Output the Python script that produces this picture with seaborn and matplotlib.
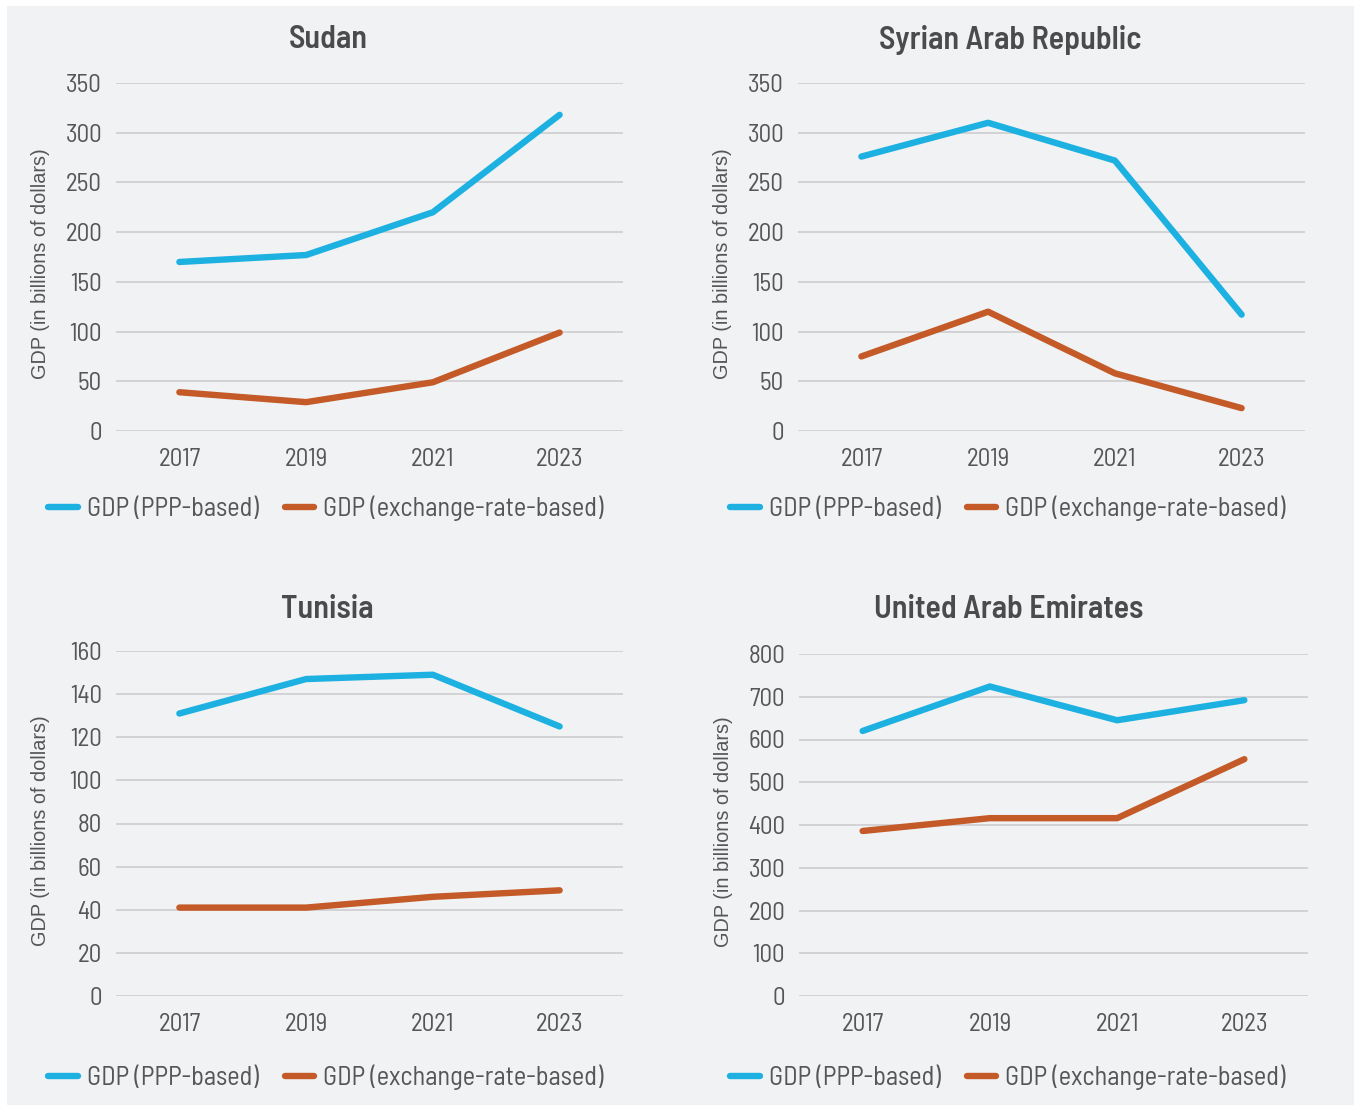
import matplotlib
matplotlib.use("Agg")
import matplotlib.pyplot as plt
import pandas as pd
import seaborn as sns
from matplotlib.lines import Line2D
from matplotlib.patches import Rectangle

# ---- data (billions of dollars) ----
years = ["2017", "2019", "2021", "2023"]
series_names = ["GDP (PPP-based)", "GDP (exchange-rate-based)"]

sudan_ppp = [170, 177, 220, 318]
sudan_exr = [39, 29, 49, 99]

syria_ppp = [276, 310, 272, 117]
syria_exr = [75, 120, 58, 23]

tunisia_ppp = [131, 147, 149, 125]
tunisia_exr = [41, 41, 46, 49]

uae_ppp = [620, 724, 645, 692]
uae_exr = [386, 416, 416, 554]

sudan_ticks = [0, 50, 100, 150, 200, 250, 300, 350]
syria_ticks = [0, 50, 100, 150, 200, 250, 300, 350]
tunisia_ticks = [0, 20, 40, 60, 80, 100, 120, 140, 160]
uae_ticks = [0, 100, 200, 300, 400, 500, 600, 700, 800]

countries = ["Sudan", "Syrian Arab Republic", "Tunisia", "United Arab Emirates"]

# ---- style ----
W, H, DPI = 1354, 1105, 100
BG = "#f1f2f4"
BLUE = "#1db1e1"
ORANGE = "#c35a27"
TXT = "#555658"
TITLE = "#4a4b4d"
GRID = "#cdcdcf"
COND = ["Barlow Semi Condensed", "Barlow Condensed", "Roboto Condensed", "Roboto", "DejaVu Sans"]

sns.set_theme(style="white")
plt.rcParams["font.family"] = COND

fig = plt.figure(figsize=(W / DPI, H / DPI), dpi=DPI, facecolor="white")
fig.patches.append(Rectangle((7 / W, 0), 1, 1 - 6 / H, transform=fig.transFigure,
                             facecolor=BG, edgecolor="none", zorder=-10))


def px_rect(x0, y0, x1, y1):
    return [x0 / W, 1 - y1 / H, (x1 - x0) / W, (y1 - y0) / H]


panels = [
    dict(name=countries[0], ppp=sudan_ppp, exr=sudan_exr, ticks=sudan_ticks,
         rect=(116, 83, 623, 431), title=(328, 40), legend=(326, 508)),
    dict(name=countries[1], ppp=syria_ppp, exr=syria_exr, ticks=syria_ticks,
         rect=(798, 83, 1305, 431), title=(1010, 40), legend=(1008, 508)),
    dict(name=countries[2], ppp=tunisia_ppp, exr=tunisia_exr, ticks=tunisia_ticks,
         rect=(116, 651, 623, 996), title=(327, 609), legend=(326, 1077)),
    dict(name=countries[3], ppp=uae_ppp, exr=uae_exr, ticks=uae_ticks,
         rect=(799, 654, 1308, 996), title=(1009, 609), legend=(1008, 1077)),
]

for p in panels:
    ax = fig.add_axes(px_rect(*p["rect"]))
    ax.set_facecolor("none")
    df = pd.DataFrame({
        "year": years * 2,
        "value": list(p["ppp"]) + list(p["exr"]),
        "series": [series_names[0]] * len(years) + [series_names[1]] * len(years),
    })
    sns.lineplot(data=df, x="year", y="value", hue="series", hue_order=series_names,
                 palette=[BLUE, ORANGE], linewidth=4.6, solid_capstyle="round",
                 legend=False, ax=ax, zorder=3)

    ax.set_xlim(-0.5, len(years) - 0.5)
    ax.set_ylim(p["ticks"][0], p["ticks"][-1])
    ax.set_yticks(p["ticks"])
    ax.set_yticklabels([str(t) for t in p["ticks"]])
    ax.set_xlabel("")
    ax.set_ylabel("GDP (in billions of dollars)", family=["Liberation Sans", "DejaVu Sans"],
                  fontsize=14.3, color=TXT)
    ax.yaxis.set_label_coords(-0.13, 0.48)

    ax.grid(axis="y", color=GRID, linewidth=1.2, zorder=0)
    ax.grid(axis="x", visible=False)
    for s in ax.spines.values():
        s.set_visible(False)
    ax.tick_params(axis="both", length=0, labelsize=18, labelcolor=TXT)
    ax.tick_params(axis="y", pad=10)
    ax.tick_params(axis="x", pad=12)

    fig.text(p["title"][0] / W, 1 - p["title"][1] / H, p["name"], ha="center", va="center",
             fontsize=23, fontweight="semibold", color=TITLE)

    handles = [Line2D([], [], color=BLUE, linewidth=4.6, solid_capstyle="round"),
               Line2D([], [], color=ORANGE, linewidth=4.6, solid_capstyle="round")]
    fig.legend(handles, series_names, loc="center",
               bbox_to_anchor=(p["legend"][0] / W, 1 - p["legend"][1] / H),
               ncol=2, frameon=False, fontsize=19, labelcolor=TXT,
               handlelength=1.1, handletextpad=0.35, columnspacing=1.0)

fig.savefig("out.png", dpi=DPI, facecolor=fig.get_facecolor())
